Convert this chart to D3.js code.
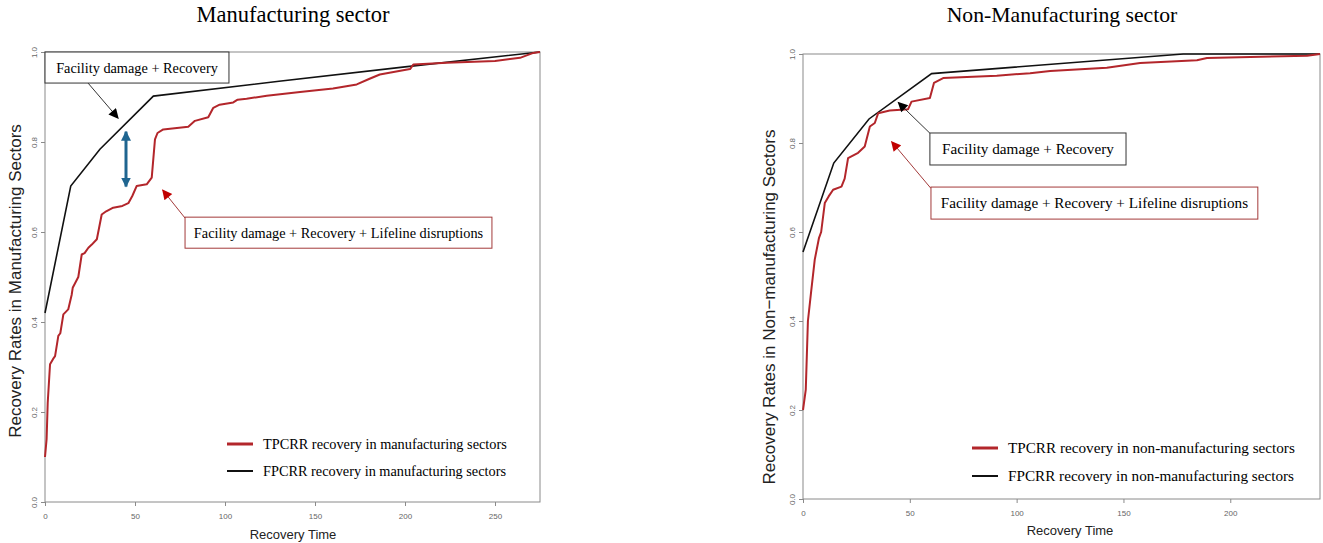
<!DOCTYPE html>
<html>
<head>
<meta charset="utf-8">
<script src="https://cdn.jsdelivr.net/npm/d3@7"></script>
<style>
    body { margin: 0; background: #fff; }
    svg text { font-family: "Liberation Sans", Arial, sans-serif; }
    svg text.serif { font-family: "Liberation Serif", "Times New Roman", serif; }
</style>
</head>
<body>
<div id="chart"></div>
<script>
// 製造業：TPCRR（含維生管線中斷）恢復曲線 [時間, 恢復率]
const mfgTpcrr = [
    [0, 0.10], [0.9, 0.14], [1.5, 0.22], [2.8, 0.306], [4.5, 0.318], [5.6, 0.324],
    [7.4, 0.369], [8.5, 0.375], [10.2, 0.417], [12.9, 0.428], [14.8, 0.46], [15.4, 0.476],
    [18.5, 0.50], [20.4, 0.55], [22, 0.553], [24.1, 0.565], [26, 0.572], [28.8, 0.584],
    [31.5, 0.639], [34, 0.646], [37.9, 0.654], [43, 0.658], [46.3, 0.664], [48.5, 0.68],
    [50.9, 0.702], [56.5, 0.706], [59.3, 0.721], [61.1, 0.806], [62.5, 0.82], [65.7, 0.828],
    [79.6, 0.834], [83.3, 0.847], [90.7, 0.855], [93.5, 0.876], [97, 0.883], [104.6, 0.888],
    [107, 0.894], [112, 0.896], [123.2, 0.903], [141.7, 0.911], [160, 0.919], [173.2, 0.928],
    [180, 0.94], [186, 0.95], [202.8, 0.962], [204.6, 0.972], [223.2, 0.976], [250, 0.98],
    [263.9, 0.987], [271.3, 0.998], [275, 1.0]
];
// 製造業：FPCRR 恢復曲線
const mfgFpcrr = [[0, 0.42], [14.3, 0.702], [30.5, 0.784], [60.2, 0.902], [130, 0.935], [200, 0.967], [275, 1.0]];

// 非製造業：TPCRR 恢復曲線
const nonMfgTpcrr = [
    [0, 0.20], [1.3, 0.246], [2.3, 0.40], [3.9, 0.47], [5.5, 0.538], [7.5, 0.587], [8.5, 0.60],
    [10.2, 0.665], [12, 0.68], [14.1, 0.695], [18, 0.702], [19.5, 0.72], [21.1, 0.766],
    [25.8, 0.778], [28.9, 0.792], [31.3, 0.837], [33.6, 0.845], [35.2, 0.867], [40.6, 0.873],
    [49.2, 0.876], [50.8, 0.893], [59.4, 0.901], [61.3, 0.935], [65.6, 0.946], [90.7, 0.951],
    [106.3, 0.957], [115.7, 0.962], [142.2, 0.969], [157.8, 0.98], [184.4, 0.986],
    [189.1, 0.991], [236, 0.996], [242, 1.0]
];
// 非製造業：FPCRR 恢復曲線
const nonMfgFpcrr = [[0, 0.555], [14.4, 0.755], [30.9, 0.854], [60.2, 0.956], [178, 1.0], [242, 1.0]];

// 刻度
const mfgXTicks = [0, 50, 100, 150, 200, 250];
const nonMfgXTicks = [0, 50, 100, 150, 200];
const yTicks = [0, 0.2, 0.4, 0.6, 0.8, 1.0];

const RED = "#b3262b";
const BLUE = "#1f6590";

const svg = d3.select("#chart")
    .append("svg")
    .attr("width", 1323)
    .attr("height", 543);

// 箭頭標記
const defs = svg.append("defs");
function addMarker(id, color, w, h) {
    defs.append("marker")
        .attr("id", id)
        .attr("viewBox", "0 0 10 10")
        .attr("refX", 9)
        .attr("refY", 5)
        .attr("markerWidth", w)
        .attr("markerHeight", h)
        .attr("markerUnits", "userSpaceOnUse")
        .attr("orient", "auto-start-reverse")
        .append("path")
        .attr("d", "M0,0 L10,5 L0,10 Z")
        .attr("fill", color);
}
addMarker("arrow-black", "#000", 12, 10);
addMarker("arrow-red", "#c00000", 12, 10);
addMarker("arrow-blue", BLUE, 10, 10);

function drawPanel(opt) {
    const x = d3.scaleLinear().domain([0, opt.xMax]).range([opt.left, opt.right]);
    const y = d3.scaleLinear().domain([0, 1]).range([opt.bottom, opt.top]);

    // 標題
    svg.append("text")
        .attr("class", "serif")
        .attr("x", opt.titleX)
        .attr("y", 22)
        .attr("text-anchor", "middle")
        .style("font-size", opt.titleFont)
        .text(opt.title);

    // 外框
    svg.append("rect")
        .attr("x", opt.left)
        .attr("y", opt.top)
        .attr("width", opt.right - opt.left)
        .attr("height", opt.bottom - opt.top)
        .attr("fill", "none")
        .attr("stroke", "#8a8a8a");

    // X 軸
    const xAxis = svg.append("g")
        .attr("transform", `translate(0, ${opt.bottom})`)
        .call(d3.axisBottom(x).tickValues(opt.xTicks).tickSize(4).tickPadding(7));
    xAxis.select(".domain").remove();
    xAxis.selectAll("line").attr("stroke", "#8a8a8a");
    xAxis.selectAll("text").attr("fill", "#666").style("font-size", "8px");

    // Y 軸（標籤旋轉）
    const yAxis = svg.append("g")
        .attr("transform", `translate(${opt.left}, 0)`)
        .call(d3.axisLeft(y).tickValues(yTicks).tickSize(4).tickFormat(d3.format(".1f")));
    yAxis.select(".domain").remove();
    yAxis.selectAll("line").attr("stroke", "#8a8a8a");
    yAxis.selectAll("text")
        .attr("transform", "rotate(-90)")
        .attr("x", 0)
        .attr("y", -8)
        .attr("dy", 0)
        .attr("text-anchor", "middle")
        .attr("fill", "#666")
        .style("font-size", "8px");

    // 軸標籤
    svg.append("text")
        .attr("x", opt.xLabelX)
        .attr("y", opt.xLabelY)
        .attr("text-anchor", "middle")
        .style("font-size", "13px")
        .attr("fill", "#222")
        .text("Recovery Time");

    svg.append("text")
        .attr("transform", `translate(${opt.yLabelX}, ${opt.yLabelY}) rotate(-90)`)
        .attr("text-anchor", "middle")
        .style("font-size", "17px")
        .attr("fill", "#222")
        .text(opt.yLabel);

    // 曲線
    const line = d3.line().x(d => x(d[0])).y(d => y(d[1]));

    svg.append("path")
        .datum(opt.black)
        .attr("d", line)
        .attr("fill", "none")
        .attr("stroke", "#111")
        .attr("stroke-width", 1.6);

    svg.append("path")
        .datum(opt.red)
        .attr("d", line)
        .attr("fill", "none")
        .attr("stroke", RED)
        .attr("stroke-width", 2)
        .attr("stroke-linejoin", "round");

    // 註解框與箭頭
    opt.notes.forEach(n => {
        svg.append("line")
            .attr("x1", x(n.from[0])).attr("y1", y(n.from[1]))
            .attr("x2", x(n.to[0])).attr("y2", y(n.to[1]))
            .attr("stroke", n.color === "red" ? "#a33a3a" : "#333")
            .attr("stroke-width", 1)
            .attr("marker-end", n.color === "red" ? "url(#arrow-red)" : "url(#arrow-black)");

        const bx = x(n.box[0]), bw = x(n.box[1]) - bx;
        const by = y(n.box[2]), bh = y(n.box[3]) - by;
        svg.append("rect")
            .attr("x", bx).attr("y", by)
            .attr("width", bw).attr("height", bh)
            .attr("fill", "#fff")
            .attr("stroke", n.color === "red" ? "#a33a3a" : "#333")
            .attr("stroke-width", 1);
        svg.append("text")
            .attr("class", "serif")
            .attr("x", bx + bw / 2)
            .attr("y", by + bh / 2)
            .attr("dy", "0.35em")
            .attr("text-anchor", "middle")
            .style("font-size", opt.noteFont)
            .text(n.text);
    });

    if (opt.gap) {
        svg.append("line")
            .attr("x1", x(opt.gap[0])).attr("y1", y(opt.gap[1]))
            .attr("x2", x(opt.gap[0])).attr("y2", y(opt.gap[2]))
            .attr("stroke", BLUE)
            .attr("stroke-width", 3)
            .attr("marker-start", "url(#arrow-blue)")
            .attr("marker-end", "url(#arrow-blue)");
    }

    // 圖例
    const legend = svg.selectAll(null)
        .data(opt.legend)
        .enter().append("g")
        .attr("transform", (d, i) => `translate(${opt.legendX}, ${opt.legendY + i * opt.legendGap})`);

    legend.append("line")
        .attr("x1", 0).attr("x2", 26)
        .attr("stroke", (d, i) => i === 0 ? RED : "#111")
        .attr("stroke-width", (d, i) => i === 0 ? 3 : 2);

    legend.append("text")
        .attr("class", "serif")
        .attr("x", 36)
        .attr("dy", "0.35em")
        .style("font-size", opt.legendFont)
        .text(d => d);
}

drawPanel({
    title: "Manufacturing sector",
    titleX: 293, titleFont: "22.5px",
    left: 45, right: 540, top: 52, bottom: 502,
    xMax: 275,
    xTicks: mfgXTicks,
    xLabelX: 293, xLabelY: 539,
    yLabel: "Recovery Rates in Manufacturing Sectors",
    yLabelX: 21, yLabelY: 281,
    red: mfgTpcrr,
    black: mfgFpcrr,
    noteFont: "14.3px",
    notes: [
        { color: "black", text: "Facility damage + Recovery", box: [0, 102.2, 1.0, 0.931], from: [23.9, 0.931], to: [40.6, 0.853] },
        { color: "red", text: "Facility damage + Recovery + Lifeline disruptions", box: [77.8, 248.3, 0.633, 0.564], from: [77.8, 0.631], to: [65.4, 0.693] }
    ],
    gap: [45, 0.823, 0.701],
    legend: ["TPCRR recovery in manufacturing sectors", "FPCRR recovery in manufacturing sectors"],
    legendX: 227, legendY: 444, legendGap: 27, legendFont: "14.3px"
});

drawPanel({
    title: "Non-Manufacturing sector",
    titleX: 1062, titleFont: "21.7px",
    left: 803, right: 1320, top: 54, bottom: 499,
    xMax: 242,
    xTicks: nonMfgXTicks,
    xLabelX: 1070, xLabelY: 535,
    yLabel: "Recovery Rates in Non\u2212manufacturing Sectors",
    yLabelX: 775, yLabelY: 307,
    red: nonMfgTpcrr,
    black: nonMfgFpcrr,
    noteFont: "15.2px",
    notes: [
        { color: "black", text: "Facility damage + Recovery", box: [59.4, 151.2, 0.8225, 0.7506], from: [59.4, 0.822], to: [44.6, 0.891] },
        { color: "red", text: "Facility damage + Recovery + Lifeline disruptions", box: [59.9, 212.9, 0.701, 0.629], from: [59.9, 0.698], to: [41.5, 0.803] }
    ],
    legend: ["TPCRR recovery in non-manufacturing sectors", "FPCRR recovery in non-manufacturing sectors"],
    legendX: 972, legendY: 448, legendGap: 28, legendFont: "15.2px"
});
</script>
</body>
</html>
